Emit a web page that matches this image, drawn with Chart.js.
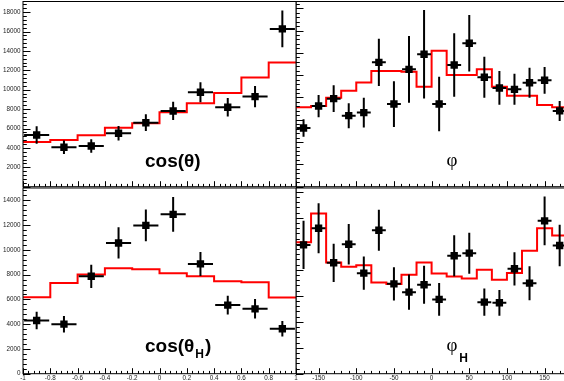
<!DOCTYPE html>
<html>
<head>
<meta charset="utf-8">
<script src="https://cdn.jsdelivr.net/npm/chart.js@4/dist/chart.umd.min.js"></script>
<style>
html, body { margin: 0; padding: 0; background: #fff; width: 564px; height: 381px; overflow: hidden; }
canvas { position: absolute; }
</style>
</head>
<body>
<canvas id="padTL" width="300" height="188" style="left:0;top:0"></canvas>
<canvas id="padBL" width="300" height="194" style="left:0;top:187px"></canvas>
<canvas id="padTR" width="280" height="188" style="left:296px;top:0"></canvas>
<canvas id="padBR" width="280" height="194" style="left:296px;top:187px"></canvas>
<script>
// bins
const cosEdges = [-1, -0.8, -0.6, -0.4, -0.2, 0, 0.2, 0.4, 0.6, 0.8, 1];
const cosCenters = [-0.9, -0.7, -0.5, -0.3, -0.1, 0.1, 0.3, 0.5, 0.7, 0.9];
const phiEdges = [-180, -160, -140, -120, -100, -80, -60, -40, -20, 0, 20, 40, 60, 80, 100, 120, 140, 160, 180];
const phiCenters = [-170, -150, -130, -110, -90, -70, -50, -30, -10, 10, 30, 50, 70, 90, 110, 130, 150, 170];

// tick labels
const cosTickVals = [-1, -0.8, -0.6, -0.4, -0.2, 0, 0.2, 0.4, 0.6, 0.8, 1];
const phiTickVals = [-150, -100, -50, 0, 50, 100, 150];
const yTicksTop = [2000, 4000, 6000, 8000, 10000, 12000, 14000, 16000, 18000];
const yTicksBottom = [0, 2000, 4000, 6000, 8000, 10000, 12000, 14000];

// cos(theta)
const cosThData = [5330, 4070, 4200, 5510, 6600, 7810, 9740, 8190, 9290, 16270];
const cosThErr = [900, 700, 700, 750, 860, 940, 1030, 950, 1100, 1900];
const cosThFit = [4610, 4820, 5300, 6090, 6540, 7680, 8600, 9670, 11250, 12800];

// phi
const phiData = [5260, 7230, 7890, 6370, 6640, 11150, 7410, 10520, 11870, 7410, 10910, 12860, 9810, 8850, 8730, 9320, 9540, 6790];
const phiErr = [780, 1000, 1200, 1120, 1330, 2120, 2050, 2990, 3960, 2450, 2840, 2540, 1840, 1510, 1390, 1345, 1200, 900];
const phiFit = [7115, 7235, 7980, 8610, 9330, 10370, 10370, 10310, 8970, 12190, 10010, 10010, 10520, 8970, 8160, 8160, 7320, 7115];

// cos(theta_H)
const cosThHData = [4300, 4000, 7870, 10560, 11980, 12870, 8870, 5540, 5240, 3630];
const cosThHErr = [710, 670, 940, 1260, 1290, 1410, 970, 750, 790, 630];
const cosThHFit = [6180, 7330, 8010, 8520, 8440, 8120, 7870, 7470, 7390, 6160];

// phi_H
const phiHData = [9920, 11200, 8540, 9970, 7740, 11050, 6920, 6280, 6850, 5720, 9080, 9280, 5510, 5460, 8080, 6970, 11770, 9870];
const phiHErr = [1860, 1920, 1470, 1560, 1280, 1580, 1280, 1350, 1470, 1260, 1580, 1580, 1050, 990, 1280, 1310, 1880, 1600];
const phiHFit = [10130, 12330, 8560, 8230, 8360, 7020, 6900, 7615, 8560, 7715, 7485, 7330, 8000, 7230, 7745, 9460, 11200, 10640];

const labelFont = { family: 'Liberation Sans', size: 6.3 };

// draw the pad label piece by piece, each piece continuing where the last ended
function drawTitle(ctx, parts) {
    let cur = 0;
    ctx.save();
    ctx.fillStyle = '#000';
    ctx.textBaseline = 'alphabetic';
    parts.forEach(p => {
        ctx.font = p.font;
        const w = ctx.measureText(p.text).width;
        let x = p.x !== undefined ? p.x : cur + (p.dx || 0);
        if (p.align === 'center') x -= w / 2;
        ctx.textAlign = 'left';
        ctx.fillText(p.text, x, p.y);
        cur = x + w;
    });
    ctx.restore();
}

function makePad(id, cfg) {
    const n = cfg.centers.length;
    const steps = cfg.edges.map((e, i) => ({ x: e, y: cfg.fit[Math.min(i, n - 1)] }));
    const pts = cfg.centers.map((c, i) => ({ x: c, y: cfg.values[i] }));
    const half = (cfg.edges[1] - cfg.edges[0]) * 0.46;

    const deco = {
        id: 'deco',
        afterDatasetsDraw(chart) {
            const { ctx } = chart;
            const xs = chart.scales.x, ys = chart.scales.y;
            ctx.save();
            ctx.strokeStyle = '#000';
            ctx.lineWidth = 2;
            cfg.centers.forEach((c, i) => {
                const v = cfg.values[i], e = cfg.errors[i];
                const px = xs.getPixelForValue(c), py = ys.getPixelForValue(v);
                ctx.beginPath();
                ctx.moveTo(xs.getPixelForValue(c - half), py);
                ctx.lineTo(xs.getPixelForValue(c + half), py);
                ctx.moveTo(px, ys.getPixelForValue(v + e));
                ctx.lineTo(px, ys.getPixelForValue(v - e));
                ctx.stroke();
            });
            ctx.restore();
        },
        afterDraw(chart) {
            const { ctx, chartArea: a } = chart;
            const xs = chart.scales.x, ys = chart.scales.y;
            ctx.save();
            ctx.strokeStyle = '#000';
            ctx.lineWidth = 1;
            ctx.strokeRect(a.left, a.top, a.right - a.left, a.bottom - a.top);
            // inward ticks, ROOT style
            ctx.beginPath();
            let k = 0;
            for (let v = xs.min; v <= xs.max + 1e-9; v += cfg.xMinor, k++) {
                const px = Math.round(xs.getPixelForValue(v)) + 0.5;
                const len = (k % 5 === cfg.xMajorPhase) ? 5.5 : 2.8;
                ctx.moveTo(px, a.bottom);
                ctx.lineTo(px, a.bottom - len);
            }
            k = 0;
            for (let v = 0; v <= ys.max; v += cfg.yMinor, k++) {
                const py = Math.round(ys.getPixelForValue(v)) + 0.5;
                const len = (k % 5 === 0) ? 7.5 : 3.8;
                ctx.moveTo(a.left, py);
                ctx.lineTo(a.left + len, py);
            }
            ctx.stroke();
            ctx.restore();
            drawTitle(ctx, cfg.title);
        }
    };

    return new Chart(document.getElementById(id), {
        type: 'scatter',
        data: {
            datasets: [
                {
                    type: 'scatter',
                    data: pts,
                    pointStyle: 'rect',
                    pointRadius: 5.2,
                    backgroundColor: '#000',
                    borderWidth: 0,
                    order: 0
                },
                {
                    type: 'line',
                    data: steps,
                    stepped: true,
                    borderColor: '#ff0000',
                    borderWidth: 2,
                    pointRadius: 0,
                    fill: false,
                    order: 1
                }
            ]
        },
        options: {
            responsive: false,
            animation: false,
            events: [],
            layout: { padding: cfg.padding, autoPadding: false },
            plugins: { legend: { display: false }, tooltip: { enabled: false } },
            scales: {
                x: {
                    type: 'linear',
                    min: cfg.edges[0],
                    max: cfg.edges[cfg.edges.length - 1],
                    display: cfg.xLabels,
                    grid: { display: false, drawTicks: false },
                    border: { display: false },
                    afterBuildTicks: s => { s.ticks = cfg.xTicks.map(v => ({ value: v })); },
                    afterFit: s => {
                        s.height = cfg.xLabels ? 7.3 : 0;
                        s.paddingLeft = 0; s.paddingRight = 0;
                    },
                    ticks: {
                        font: labelFont,
                        color: '#222',
                        padding: 1,
                        autoSkip: false,
                        maxRotation: 0,
                        callback: v => String(Math.round(v * 10) / 10)
                    }
                },
                y: {
                    type: 'linear',
                    min: 0,
                    max: cfg.yMax,
                    display: cfg.yLabels,
                    grid: { display: false, drawTicks: false },
                    border: { display: false },
                    afterBuildTicks: s => { s.ticks = cfg.yTicks.map(v => ({ value: v })); },
                    afterFit: s => {
                        s.width = cfg.yLabels ? 23 : 0;
                        s.paddingTop = 0; s.paddingBottom = 0;
                    },
                    ticks: {
                        font: labelFont,
                        color: '#222',
                        padding: 2.5,
                        callback: v => String(v)
                    }
                }
            }
        },
        plugins: [deco]
    });
}

makePad('padTL', {
    edges: cosEdges, centers: cosCenters, values: cosThData, errors: cosThErr, fit: cosThFit,
    xTicks: cosTickVals, yTicks: yTicksTop, yMax: 19100,
    xLabels: false, yLabels: true, xMinor: 0.04, xMajorPhase: 0, yMinor: 400,
    padding: { left: 0, top: 1.5, right: 4, bottom: 1.3 },
    title: [{ text: 'cos(θ)', x: 145, y: 166.5, font: 'bold 19px "Liberation Sans"' }]
});

makePad('padBL', {
    edges: cosEdges, centers: cosCenters, values: cosThHData, errors: cosThHErr, fit: cosThHFit,
    xTicks: cosTickVals, yTicks: yTicksBottom, yMax: 15000,
    xLabels: true, yLabels: true, xMinor: 0.04, xMajorPhase: 0, yMinor: 400,
    padding: { left: 0, top: 1, right: 4, bottom: 0 },
    title: [
        { text: 'cos(θ', x: 145, y: 164.7, font: 'bold 19px "Liberation Sans"' },
        { text: 'H', dx: 1, y: 170.5, font: 'bold 12px "Liberation Sans"' },
        { text: ')', dx: 1, y: 164.7, font: 'bold 19px "Liberation Sans"' }
    ]
});

makePad('padTR', {
    edges: phiEdges, centers: phiCenters, values: phiData, errors: phiErr, fit: phiFit,
    xTicks: phiTickVals, yTicks: yTicksTop, yMax: 16600,
    xLabels: false, yLabels: false, xMinor: 10, xMajorPhase: 3, yMinor: 400,
    padding: { left: 0, top: 1.5, right: 8.8, bottom: 1.3 },
    title: [{ text: 'φ', x: 156, y: 166, font: '19px "Liberation Serif"', align: 'center' }]
});

makePad('padBR', {
    edges: phiEdges, centers: phiCenters, values: phiHData, errors: phiHErr, fit: phiHFit,
    xTicks: phiTickVals, yTicks: yTicksBottom, yMax: 14300,
    xLabels: true, yLabels: false, xMinor: 10, xMajorPhase: 3, yMinor: 400,
    padding: { left: 0, top: 1, right: 8.8, bottom: 0 },
    title: [
        { text: 'φ', x: 156, y: 164, font: '19px "Liberation Serif"', align: 'center' },
        { text: 'H', x: 163.3, y: 174.7, font: 'bold 12px "Liberation Sans"' }
    ]
});
</script>
</body>
</html>
